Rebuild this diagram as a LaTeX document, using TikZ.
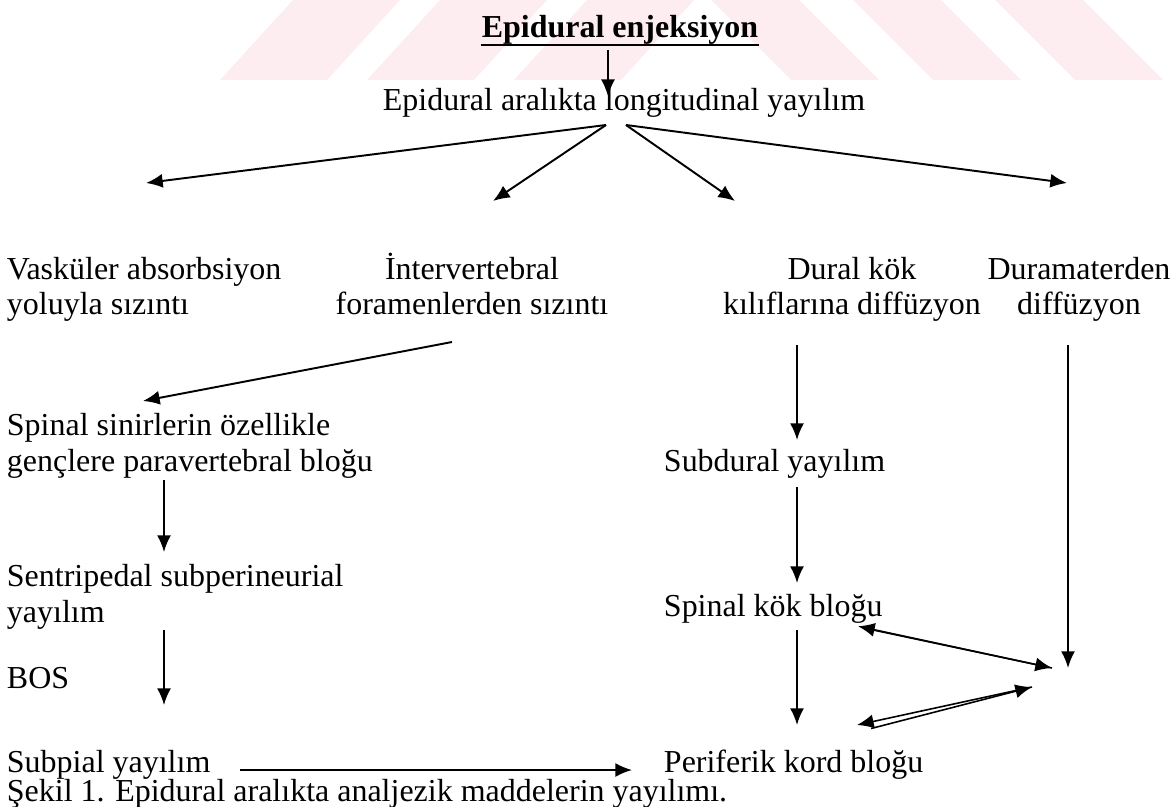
\documentclass[tikz,border=0pt]{standalone}
\usepackage{fontspec}
\setmainfont{Liberation Serif}
\usetikzlibrary{arrows.meta}
\definecolor{wmpink}{RGB}{253,236,240}
\begin{document}
\begin{tikzpicture}[x=0.02cm,y=-0.02cm,line join=round,>={Latex[length=9.5pt,width=8pt]},line width=1.1pt]
	\tikzset{every node/.style={inner sep=0pt,font=\fontsize{18.2pt}{20pt}\selectfont},
		lft/.style={anchor=base west,align=left},
		ctr/.style={anchor=base,align=center}}
	\useasboundingbox (0,0) rectangle (1176,807);
	% faint watermark at the top
	\begin{scope}
		\clip (0,0) rectangle (1176,80);
		\foreach \a in {220,367,514}
			\fill[wmpink] (\a,80)--(\a+107,80)--(\a+180,0)--(\a+73,0)--cycle;
		\foreach \a in {791,933,1075}
			\fill[wmpink] (\a,80)--(\a+88,80)--(\a+8,0)--(\a-80,0)--cycle;
	\end{scope}
	% texts (base of a two-line node = its last line)
	\node[ctr] (inj) at (620,38) {\bfseries Epidural enjeksiyon};
	\draw[line width=1.4pt] ([yshift=-4pt]inj.base west)--([yshift=-4pt]inj.base east);
	\node[ctr] (long) at (624,111) {Epidural aralıkta longitudinal yayılım};
	\node[lft] (vask) at (6,315) {Vasküler absorbsiyon\\yoluyla sızıntı};
	\node[ctr] (inter) at (472,315) {İntervertebral\\foramenlerden sızıntı};
	\node[ctr] (dural) at (852,315) {Dural kök\\kılıflarına diffüzyon};
	\node[ctr] (dura) at (1079,315) {Duramaterden\\diffüzyon};
	\node[lft] (spin) at (6,471) {Spinal sinirlerin özellikle\\gençlere paravertebral bloğu};
	\node[lft] (sentr) at (6,622) {Sentripedal subperineurial\\yayılım};
	\node[lft] (bos) at (6,688) {BOS};
	\node[lft] (subpial) at (6,772) {Subpial yayılım};
	\node[lft] (subd) at (663,471) {Subdural yayılım};
	\node[lft] (skok) at (663,616) {Spinal kök bloğu};
	\node[lft] (perif) at (663,772) {Periferik kord bloğu};
	\node[lft] (cap) at (6,801) {Şekil 1. Epidural aralıkta analjezik maddelerin yayılımı.};
	% arrow ends
	\coordinate (t0s) at (608,50); \coordinate (t0e) at (608,96);
	\coordinate (fanL) at (606,125); \coordinate (fanR) at (626,125);
	\coordinate (f1) at (146,183); \coordinate (f2) at (493,201);
	\coordinate (f3) at (735,201); \coordinate (f4) at (1067,183);
	\coordinate (i1s) at (452,342); \coordinate (i1e) at (143,401);
	\coordinate (l1s) at (164,480); \coordinate (l1e) at (164,552);
	\coordinate (l2s) at (164,630); \coordinate (l2e) at (164,705);
	\coordinate (hs) at (240,770); \coordinate (he) at (632,770);
	\coordinate (r1s) at (797,345); \coordinate (r1e) at (797,440);
	\coordinate (r2s) at (797,487); \coordinate (r2e) at (797,583);
	\coordinate (r3s) at (797,630); \coordinate (r3e) at (797,725);
	\coordinate (d1s) at (1068,345); \coordinate (d1e) at (1068,668);
	\coordinate (u1) at (858,628); \coordinate (u2) at (1052,668);
	\coordinate (w1) at (857,725); \coordinate (w2) at (1032,687);
	% arrows
	\draw[->,line width=0.8pt] (t0s)--(t0e);
	\draw[->] (fanL)--(f1);
	\draw[->] (fanL)--(f2);
	\draw[->] (fanR)--(f3);
	\draw[->] (fanR)--(f4);
	\draw[->] (i1s)--(i1e);
	\draw[->] (l1s)--(l1e);
	\draw[->] (l2s)--(l2e);
	\draw[->] (hs)--(he);
	\draw[->] (r1s)--(r1e);
	\draw[->] (r2s)--(r2e);
	\draw[->] (r3s)--(r3e);
	\draw[->] (d1s)--(d1e);
	\draw[->,line width=0.9pt] ([xshift=8pt,yshift=-1pt]u1)--(u2);
	\draw[->,line width=0.9pt] (u2)--([yshift=1pt]u1);
	\draw[->,line width=0.9pt] ([xshift=8pt,yshift=-2pt]w1)--(w2);
	\draw[->,line width=0.9pt] (w2)--(w1);
\end{tikzpicture}
\end{document}
